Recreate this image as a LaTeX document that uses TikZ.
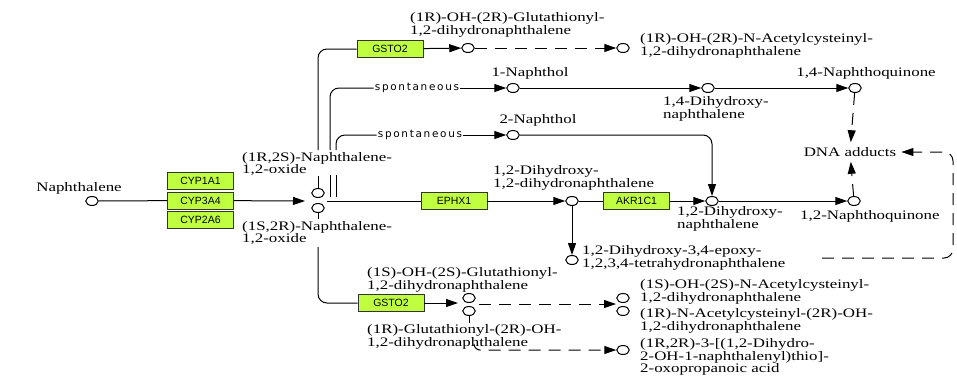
\documentclass[tikz,border=0pt]{standalone}
\usepackage{fontspec}
\setmainfont{Liberation Serif}[FakeStretch=1.3]
\setsansfont{Liberation Sans}
\newfontfamily\spfont{DejaVu Sans}[LetterSpace=16]
\usetikzlibrary{arrows.meta,shapes.geometric}
\definecolor{kegg_green}{RGB}{191,255,63}
\tikzstyle{cpd}=[ellipse,draw=black,fill=white,line width=1pt,inner sep=0pt,
  minimum width=12.5pt,minimum height=9pt]
\tikzstyle{gene}=[rectangle,fill=kegg_green,draw=black!80,line width=0.9pt,
  minimum width=66pt,minimum height=17pt,inner sep=0pt,
  font=\sffamily\fontsize{10.5}{12}\selectfont]
\tikzstyle{lbl}=[inner sep=0pt,align=left,anchor=west,
  font=\fontsize{13}{11.6}\selectfont]
\tikzstyle{spn}=[inner sep=1pt,font=\spfont\fontsize{10.5}{11}\selectfont]
\tikzstyle{link}=[line width=1pt]
\tikzstyle{rxn}=[line width=1pt,-{Triangle[length=12pt,width=8pt]}]
\tikzstyle{dsh}=[dash pattern=on 12pt off 8pt]

\begin{document}
\begin{tikzpicture}[x=1pt,y=-1pt]
    \useasboundingbox (0,0) rectangle (957,381);
    % naphthalene and the epoxides
    \node [style=cpd] (naph) at (92,201) {};
    \node [style=lbl,anchor=center] (naphl) at (79,188) {Naphthalene};
    \node [style=gene] (cyp1a1) at (200.5,181) {CYP1A1};
    \node [style=gene] (cyp3a4) at (200.5,200.5) {CYP3A4};
    \node [style=gene] (cyp2a6) at (200.5,220) {CYP2A6};
    \coordinate (oxin) at (305,201);
    \node [style=cpd] (ox1) at (318,193) {};
    \node [style=cpd] (ox2) at (318,208) {};
    \node [style=lbl] (ox1l) at (242,164) {(1R,2S)-Naphthalene-\\1,2-oxide};
    \node [style=lbl] (ox2l) at (242,233) {(1S,2R)-Naphthalene-\\1,2-oxide};
    \coordinate (ox1s) at (318,176);
    \coordinate (ox1t) at (318,150);
    \coordinate (ox2s) at (318,219);
    \coordinate (ox2b) at (318,247);
    % top glutathione branch
    \node [style=gene] (gsto2a) at (390,49) {GSTO2};
    \node [style=cpd] (gsr) at (468,48) {};
    \node [style=lbl] (gsrl) at (410,25) {(1R)-OH-(2R)-Glutathionyl-\\1,2-dihydronaphthalene};
    \node [style=cpd] (acr) at (623,48) {};
    \node [style=lbl] (acrl) at (640,46) {(1R)-OH-(2R)-N-Acetylcysteinyl-\\1,2-dihydronaphthalene};
    % naphthols
    \coordinate (sp1b) at (330,197);
    \coordinate (sp1m) at (330,175);
    \coordinate (sp1t) at (330,150);
    \coordinate (sp2b) at (336,197);
    \coordinate (sp2m) at (336,175);
    \coordinate (sp2t) at (336,150);
    \node [style=spn] (sp1) at (417,88) {spontaneous};
    \node [style=spn] (sp2) at (420,135) {spontaneous};
    \node [style=cpd] (nol1) at (513,88) {};
    \node [style=lbl,anchor=center] (nol1l) at (530,73) {1-Naphthol};
    \node [style=cpd] (nol2) at (513,135) {};
    \node [style=lbl,anchor=center] (nol2l) at (538,120) {2-Naphthol};
    \node [style=cpd] (dhn14) at (708,88) {};
    \node [style=lbl] (dhn14l) at (663,109) {1,4-Dihydroxy-\\naphthalene};
    \node [style=cpd] (nq14) at (855,88) {};
    \node [style=lbl,anchor=center] (nq14l) at (866,73) {1,4-Naphthoquinone};
    % dihydrodiol branch
    \coordinate (mainst) at (327,201);
    \node [style=gene] (ephx1) at (454,201) {EPHX1};
    \node [style=cpd] (dhd) at (572,201) {};
    \node [style=lbl] (dhdl) at (493,178) {1,2-Dihydroxy-\\1,2-dihydronaphthalene};
    \node [style=gene] (akr1c1) at (636.5,201) {AKR1C1};
    \node [style=cpd] (dhn12) at (712,201) {};
    \node [style=lbl] (dhn12l) at (677,219) {1,2-Dihydroxy-\\naphthalene};
    \node [style=cpd] (epox) at (572,260) {};
    \node [style=lbl] (epoxl) at (582,258) {1,2-Dihydroxy-3,4-epoxy-\\1,2,3,4-tetrahydronaphthalene};
    \node [style=cpd] (nq12) at (854,201) {};
    \node [style=lbl] (nq12l) at (800,216) {1,2-Naphthoquinone};
    \node [style=lbl,anchor=center,inner sep=5pt] (dna) at (850,152) {DNA adducts};
    \coordinate (epoxd) at (822,258);
    \coordinate (dnar) at (953,152);
    % bottom glutathione branch
    \node [style=gene] (gsto2b) at (391,303) {GSTO2};
    \coordinate (gsin) at (458,303);
    \node [style=cpd] (gss) at (469,298) {};
    \node [style=cpd] (gsr2) at (469,311) {};
    \node [style=lbl] (gssl) at (367,280) {(1S)-OH-(2S)-Glutathionyl-\\1,2-dihydronaphthalene};
    \node [style=lbl] (gsr2l) at (367,337) {(1R)-Glutathionyl-(2R)-OH-\\1,2-dihydronaphthalene};
    \coordinate (gsr2s) at (469,323);
    \coordinate (gsst) at (479,304);
    \coordinate (acin) at (616,304);
    \node [style=cpd] (acs) at (623,298) {};
    \node [style=cpd] (acr2) at (623,311) {};
    \node [style=lbl] (acsl) at (640,292) {(1S)-OH-(2S)-N-Acetylcysteinyl-\\1,2-dihydronaphthalene};
    \node [style=lbl] (acr2l) at (640,321) {(1R)-N-Acetylcysteinyl-(2R)-OH-\\1,2-dihydronaphthalene};
    \coordinate (gsr2e) at (474,346);
    \node [style=cpd] (oxo) at (623,350) {};
    \node [style=lbl] (oxol) at (640,357) {(1R,2R)-3-[(1,2-Dihydro-\\2-OH-1-naphthalenyl)thio]-\\2-oxopropanoic acid};

    \draw [style=link] (naph) -- (cyp3a4);
    \draw [style=rxn] (cyp3a4) -- (oxin);
    \draw [style=link] (ox1) -- (ox1s);
    \draw [style=link,rounded corners=9pt] (ox1t) |- (gsto2a);
    \draw [style=rxn] (gsto2a) -- (gsr);
    \draw [style=rxn,style=dsh] (gsr) -- (acr);
    \draw [style=link] (sp1b) -- (sp1m);
    \draw [style=link,rounded corners=9pt] (sp1t) |- (sp1);
    \draw [style=rxn] (sp1) -- (nol1);
    \draw [style=rxn] (nol1) -- (dhn14);
    \draw [style=rxn] (dhn14) -- (nq14);
    \draw [style=link] (sp2b) -- (sp2m);
    \draw [style=link,rounded corners=9pt] (sp2t) |- (sp2);
    \draw [style=rxn] (sp2) -- (nol2);
    \draw [style=rxn,rounded corners=9pt] (nol2) -| (dhn12);
    \draw [style=link] (mainst) -- (ephx1);
    \draw [style=rxn] (ephx1) -- (dhd);
    \draw [style=link] (dhd) -- (akr1c1);
    \draw [style=rxn] (akr1c1) -- (dhn12);
    \draw [style=rxn] (dhd) -- (epox);
    \draw [style=rxn] (dhn12) -- (nq12);
    \draw [style=rxn,style=dsh] (nq12) -- (dna);
    \draw [style=rxn,style=dsh] (nq14) -- (dna);
    \draw [style=rxn,style=dsh,rounded corners=9pt] (epoxd) -| (dnar) -- (dna);
    \draw [style=link] (ox2) -- (ox2s);
    \draw [style=link,rounded corners=9pt] (ox2b) |- (gsto2b);
    \draw [style=rxn] (gsto2b) -- (gsin);
    \draw [style=link] (gsr2) -- (gsr2s);
    \draw [style=rxn,style=dsh] (gsst) -- (acin);
    \draw [style=rxn,style=dsh,rounded corners=6pt] (gsr2e) |- (oxo);
\end{tikzpicture}
\end{document}
